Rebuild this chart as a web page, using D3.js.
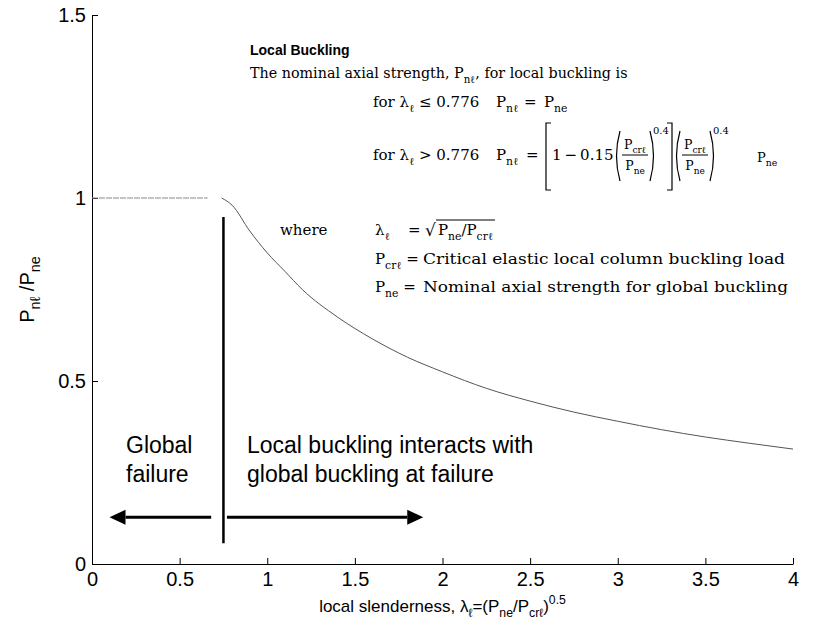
<!DOCTYPE html>
<html>
<head>
<meta charset="utf-8">
<script src="https://cdn.jsdelivr.net/npm/d3@7"></script>
<style>
  html, body { margin: 0; padding: 0; background: #fff; }
  svg { display: block; }
</style>
</head>
<body>
<div id="chart"></div>
<script>
// ---- data ----
const xTicks = [0, 0.5, 1, 1.5, 2, 2.5, 3, 3.5, 4];
const xTickLabels = ["0", "0.5", "1", "1.5", "2", "2.5", "3", "3.5", "4"];
const yTicks = [0, 0.5, 1, 1.5];
const yTickLabels = ["0", "0.5", "1", "1.5"];

// plateau (global failure region)
const flatLambda = [0, 0.66];
const flatRatio = [1.0, 1.0];

// local buckling curve Pnl/Pne vs local slenderness
const curveLambda = [0.74, 0.8, 0.9, 1.0, 1.1, 1.2, 1.4, 1.6, 1.8, 2.0, 2.25, 2.5, 2.75, 3.0, 3.25, 3.5, 3.75, 4.0];
const curveRatio  = [1.0, 0.98, 0.91, 0.85, 0.80, 0.75, 0.675, 0.615, 0.565, 0.525, 0.48, 0.445, 0.415, 0.39, 0.367, 0.347, 0.33, 0.314];

// divider and arrows (data units)
const dividerLambda = 0.75;
const dividerRatio = [0.057, 0.948];
const arrowRatio = 0.128;
const leftArrowLambda = [0.68, 0.10];   // from, to (tip)
const rightArrowLambda = [0.77, 1.89];  // from, to (tip)

// ---- drawing ----
const W = 816, H = 637;
const svg = d3.select("#chart").append("svg").attr("width", W).attr("height", H);

const x = d3.scaleLinear().domain([0, 4]).range([92, 793]);
const y = d3.scaleLinear().domain([0, 1.5]).range([564, 15]);

const sans = "'Liberation Sans', Arial, sans-serif";
const serif = "'DejaVu Serif', serif";

// axes
const xAxis = d3.axisBottom(x).tickValues(xTicks)
  .tickFormat((d, i) => xTickLabels[i]).tickSizeInner(-6).tickSizeOuter(0).tickPadding(8);
const yAxis = d3.axisLeft(y).tickValues(yTicks)
  .tickFormat((d, i) => yTickLabels[i]).tickSizeInner(-6).tickSizeOuter(0).tickPadding(6);

const gx = svg.append("g").attr("transform", `translate(0,${y(0)})`).call(xAxis);
const gy = svg.append("g").attr("transform", `translate(${x(0)},0)`).call(yAxis);
[gx, gy].forEach(g => {
  g.select(".domain").attr("stroke", "#000").attr("stroke-width", 1);
  g.selectAll(".tick line").attr("stroke", "#000");
  g.selectAll(".tick text").attr("font-family", sans).attr("font-size", 20).attr("fill", "#000");
});

// lines
const line = d3.line().x(d => x(d[0])).y(d => y(d[1]));
svg.append("path").datum(flatLambda.map((l, i) => [l, flatRatio[i]]))
  .attr("d", line).attr("fill", "none").attr("stroke", "#888").attr("stroke-width", 1)
  .attr("stroke-dasharray", "6,1");
svg.append("path").datum(curveLambda.map((l, i) => [l, curveRatio[i]]))
  .attr("d", line.curve(d3.curveMonotoneX)).attr("fill", "none").attr("stroke", "#555").attr("stroke-width", 1);

// divider
svg.append("line")
  .attr("x1", x(dividerLambda)).attr("x2", x(dividerLambda))
  .attr("y1", y(dividerRatio[0])).attr("y2", y(dividerRatio[1]))
  .attr("stroke", "#000").attr("stroke-width", 2.5);

// arrows
function arrow(fromL, toL) {
  const x0 = x(fromL), x1 = x(toL), yy = y(arrowRatio);
  const dir = Math.sign(x1 - x0);
  const headL = 16, headH = 7.5;
  svg.append("line").attr("x1", x0).attr("x2", x1 - dir * headL).attr("y1", yy).attr("y2", yy)
    .attr("stroke", "#000").attr("stroke-width", 3);
  svg.append("path")
    .attr("d", `M${x1},${yy} L${x1 - dir * headL},${yy - headH} L${x1 - dir * headL},${yy + headH} Z`)
    .attr("fill", "#000");
}
arrow(leftArrowLambda[0], leftArrowLambda[1]);
arrow(rightArrowLambda[0], rightArrowLambda[1]);

// region texts
function plain(px, py, txt, size, family) {
  return svg.append("text").attr("x", px).attr("y", py).attr("font-family", family)
    .attr("font-size", size).attr("fill", "#000").text(txt);
}
plain(126, 453, "Global", 23, sans);
plain(126, 482, "failure", 23, sans);
plain(247, 453, "Local buckling interacts with", 23, sans);
plain(247, 482, "global buckling at failure", 23, sans);

// rich text helper (sub/superscripts)
function rich(px, py, parts, size, family, anchor) {
  const t = svg.append("text").attr("x", px).attr("y", py).attr("font-family", family)
    .attr("font-size", size).attr("fill", "#000");
  if (anchor) t.attr("text-anchor", anchor);
  let cur = 0;
  parts.forEach(p => {
    const shift = p.sub ? size * 0.32 : p.sup ? -size * 0.45 : 0;
    const fs = (p.sub || p.sup) ? size * (p.scale || 0.72) : size;
    const ts = t.append("tspan").attr("dy", shift - cur).attr("font-size", fs).text(p.t);
    if (p.dx) ts.attr("dx", p.dx);
    cur = shift;
  });
  return t;
}

// axis titles
rich(0, 0, [{t: "P"}, {t: "n\u2113", sub: true}, {t: " /P"}, {t: "ne", sub: true}], 20, sans, "middle")
  .attr("transform", `translate(34,${(y(0) + y(1.5)) / 2}) rotate(-90)`);
rich((x(0) + x(4)) / 2, 612,
  [{t: "local slenderness, \u03bb"}, {t: "\u2113", sub: true}, {t: "=(P"}, {t: "ne", sub: true},
   {t: "/P"}, {t: "cr\u2113", sub: true}, {t: ")"}, {t: "0.5", sup: true}], 17, sans, "middle");

// ---- formula block ----
svg.append("text").attr("x", 250).attr("y", 55).attr("font-family", sans).attr("font-weight", "bold")
  .attr("font-size", 14).attr("fill", "#000").text("Local Buckling");

rich(250, 78, [{t: "The nominal axial strength, P"}, {t: "n\u2113", sub: true}, {t: ", for local buckling is"}], 14.3, serif);

const fs = 15;
// line 1
const b1 = 107;
rich(373, b1, [{t: "for \u03bb"}, {t: "\u2113", sub: true}, {t: " \u2264 0.776"}], fs, serif);
rich(496, b1, [{t: "P"}, {t: "n\u2113", sub: true}], fs, serif);
rich(524, b1, [{t: "="}], fs, serif);
rich(544, b1, [{t: "P"}, {t: "ne", sub: true}], fs, serif);

// line 2
const b2 = 160, axisY = b2 - 5;
rich(373, b2, [{t: "for \u03bb"}, {t: "\u2113", sub: true}, {t: " > 0.776"}], fs, serif);
rich(496, b2, [{t: "P"}, {t: "n\u2113", sub: true}], fs, serif);
rich(526, b2, [{t: "="}], fs, serif);
// brackets
function bracket(bx, top, bot, dir) {
  svg.append("path").attr("d", `M${bx + dir * 5},${top} L${bx},${top} L${bx},${bot} L${bx + dir * 5},${bot}`)
    .attr("fill", "none").attr("stroke", "#000").attr("stroke-width", 1.2);
}
bracket(546, 123, 190, 1);
bracket(672, 123, 190, -1);
rich(552, b2, [{t: "1\u2009\u2212\u20090.15"}], fs, serif);
function paren(px, top, bot, dir) {
  const mid = (top + bot) / 2;
  svg.append("path").attr("d", `M${px},${top} Q${px - dir * 7},${mid} ${px},${bot}`)
    .attr("fill", "none").attr("stroke", "#000").attr("stroke-width", 1.2);
}
function frac(cx) {
  rich(cx, axisY - 6, [{t: "P"}, {t: "cr\u2113", sub: true}], 12.5, serif, "middle");
  svg.append("line").attr("x1", cx - 13).attr("x2", cx + 13).attr("y1", axisY).attr("y2", axisY)
    .attr("stroke", "#000").attr("stroke-width", 1);
  rich(cx, axisY + 15, [{t: "P"}, {t: "ne", sub: true}], 12.5, serif, "middle");
}
paren(620, 131, 181, 1);
frac(635);
paren(650, 131, 181, -1);
rich(653, 134, [{t: "0.4"}], 10, serif);
paren(680, 131, 181, 1);
frac(695);
paren(710, 131, 181, -1);
rich(713, 134, [{t: "0.4"}], 10, serif);
rich(757, b2 + 2, [{t: "P"}, {t: "ne", sub: true}], 13, serif);

// where block
const r1 = 235, r2 = 264, r3 = 292;
rich(280, r1, [{t: "where"}], fs, serif);
rich(375, r1, [{t: "\u03bb"}, {t: "\u2113", sub: true}], fs, serif);
rich(408, r1, [{t: "="}], fs, serif);
rich(425, r1 + 1, [{t: "\u221a"}], 17, serif);
const rad = rich(438, r1, [{t: "P"}, {t: "ne", sub: true}, {t: "/P"}, {t: "cr\u2113", sub: true}], fs, serif);
const radW = rad.node().getComputedTextLength();
svg.append("line").attr("x1", 436).attr("x2", 438 + radW + 2).attr("y1", r1 - 15).attr("y2", r1 - 15)
  .attr("stroke", "#000").attr("stroke-width", 1);
rich(375, r2, [{t: "P"}, {t: "cr\u2113", sub: true}, {t: " ="}], fs, serif);
rich(423, r2, [{t: "Critical elastic local column buckling load"}], fs, serif)
  .attr("textLength", 362).attr("lengthAdjust", "spacingAndGlyphs");
rich(375, r3, [{t: "P"}, {t: "ne", sub: true}, {t: " ="}], fs, serif);
rich(423, r3, [{t: "Nominal axial strength for global buckling"}], fs, serif)
  .attr("textLength", 365).attr("lengthAdjust", "spacingAndGlyphs");
</script>
</body>
</html>
